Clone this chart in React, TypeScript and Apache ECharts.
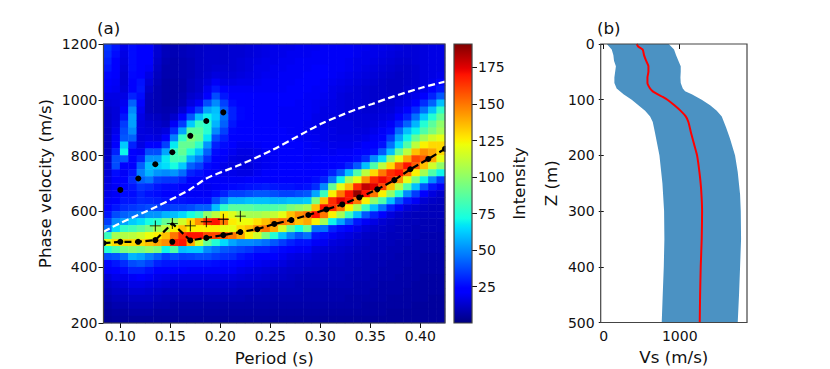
import React, { useEffect, useRef } from "react";
import * as echarts from "echarts";

// Intensity by column (left to right), each listed from top row (1187.5 m/s) to bottom row (212.5 m/s)
const intensityColumns: number[][] = [
  [34,32,30,28,25,22,20,17,15,13,12,12,11,11,11,12,13,14,15,16,17,18,20,24,28,35,45,80,120,75,38,25,20,15,12,10,8,6,5,4],
  [28,26,24,22,21,20,19,17,16,15,15,16,18,20,24,30,38,38,26,22,20,20,23,28,38,50,65,105,130,85,40,28,22,18,14,12,10,8,6,5],
  [18,17,16,15,14,14,15,17,19,24,28,35,38,40,62,70,40,24,20,22,25,26,28,32,42,55,78,108,130,95,45,32,26,18,15,12,10,8,6,5],
  [26,26,26,26,25,23,24,30,42,50,54,54,50,42,30,24,22,24,28,32,28,26,28,34,45,62,82,110,130,98,58,38,30,20,17,14,11,9,7,5],
  [24,24,23,23,23,27,28,26,22,19,17,16,16,16,17,20,30,42,48,42,34,30,31,36,48,66,88,115,130,95,55,40,30,22,17,14,11,9,7,5],
  [24,24,22,20,17,15,13,11,10,10,12,14,15,17,24,38,52,60,58,46,32,27,30,38,52,72,95,122,135,100,48,36,27,20,16,13,11,9,7,5],
  [14,14,13,12,11,10,9,9,9,9,11,13,14,16,24,38,52,62,52,36,28,26,29,36,52,76,105,125,140,95,42,30,24,18,15,12,10,8,6,5],
  [10,10,9,8,8,7,7,7,7,8,9,11,16,22,36,55,68,66,50,34,26,24,27,34,58,90,110,135,145,70,35,28,22,17,14,11,9,8,6,5],
  [9,9,8,8,8,7,7,7,8,9,13,20,32,48,68,80,82,72,52,34,26,24,27,36,60,100,125,150,168,85,38,28,22,16,13,11,9,7,6,5],
  [10,10,9,9,9,8,8,9,10,14,22,35,55,78,90,90,82,62,44,30,24,22,27,36,65,115,135,165,170,60,35,27,21,16,13,11,9,7,6,5],
  [11,11,10,10,10,11,11,13,16,25,40,62,88,96,90,74,58,42,30,24,21,20,26,38,72,130,125,170,140,62,36,27,20,16,13,11,9,7,6,5],
  [12,12,12,12,12,13,13,15,20,35,60,80,88,90,78,62,48,36,27,22,20,20,26,42,80,145,125,170,115,62,38,27,20,16,13,11,9,7,6,5],
  [13,13,13,13,14,16,19,24,38,55,70,76,76,68,52,42,33,26,22,20,19,20,26,42,100,165,125,160,90,50,38,27,20,16,13,11,9,7,6,5],
  [13,13,13,14,16,20,28,38,50,60,62,58,50,38,30,26,23,21,20,20,20,26,38,60,110,170,125,160,75,45,35,26,20,16,13,11,9,7,6,5],
  [13,13,13,14,15,17,22,28,36,42,45,42,36,30,26,22,20,18,18,20,22,30,48,78,125,150,120,155,65,40,33,25,20,16,13,11,9,7,6,5],
  [14,14,14,14,15,17,20,23,26,30,30,28,25,24,22,19,17,16,18,20,25,36,58,88,118,126,120,150,55,38,32,25,20,16,13,11,9,7,6,5],
  [14,14,15,15,16,18,20,22,24,25,25,24,22,21,19,17,16,16,17,20,26,36,58,88,108,122,130,140,50,36,28,22,18,15,12,10,9,7,6,5],
  [15,15,16,16,17,18,20,21,22,22,22,22,22,21,19,17,16,16,17,21,27,38,60,88,105,122,135,125,50,34,26,20,17,14,12,10,8,7,6,5],
  [16,16,17,18,18,19,20,21,21,21,21,21,21,21,20,18,18,18,19,22,28,40,60,85,105,128,145,115,48,30,24,19,16,14,11,10,8,7,6,5],
  [17,17,18,18,19,20,20,21,21,21,21,21,21,21,21,20,19,19,21,24,29,40,60,85,108,135,150,95,45,30,22,18,15,13,11,9,8,7,6,5],
  [18,18,18,19,19,20,20,21,21,21,21,21,21,21,21,20,20,20,22,24,28,38,58,85,112,145,140,75,40,27,21,17,14,12,10,9,8,7,6,5],
  [18,18,19,19,20,20,20,21,21,20,20,20,21,21,21,21,21,21,22,24,27,36,58,88,120,150,115,60,35,25,19,16,13,12,10,9,8,7,6,5],
  [18,19,19,20,20,20,21,21,21,20,20,20,20,21,21,21,21,21,22,24,27,36,60,96,135,145,90,48,30,22,17,14,12,11,10,9,8,7,6,5],
  [19,19,20,20,20,21,21,21,20,20,20,20,20,20,21,21,21,21,22,24,26,38,60,100,145,135,72,40,27,20,16,13,12,10,9,9,8,7,6,5],
  [19,19,20,20,21,21,21,20,20,20,20,19,19,19,20,20,20,21,22,24,27,40,62,105,150,140,90,45,27,20,16,13,11,10,9,8,8,7,6,5],
  [19,20,20,21,21,21,20,20,19,19,18,18,18,19,19,20,21,22,24,26,32,55,95,135,170,125,45,28,20,16,14,12,11,10,9,8,8,7,6,5],
  [20,20,20,21,21,20,20,19,18,17,17,17,18,18,19,20,21,23,25,30,50,80,135,170,150,105,45,26,19,15,13,12,11,10,9,8,8,7,6,5],
  [20,20,20,20,20,19,18,18,17,17,16,16,17,17,18,19,21,24,30,45,90,125,165,165,125,70,30,20,16,14,12,11,10,10,9,8,8,7,6,5],
  [20,20,20,20,19,18,17,16,16,16,16,16,16,17,18,20,22,25,40,70,120,150,175,150,105,55,26,18,15,13,12,11,10,10,9,8,8,7,6,5],
  [20,20,19,19,18,17,16,15,15,15,15,16,16,17,18,20,24,30,60,105,135,170,170,125,80,40,22,16,14,12,11,10,10,9,9,8,7,7,6,5],
  [19,19,18,18,17,16,15,15,15,15,15,15,16,17,19,22,26,40,85,120,165,187,150,105,60,28,18,14,12,11,10,10,9,9,8,8,7,7,6,5],
  [19,18,18,17,16,15,14,14,14,14,15,15,16,18,21,25,32,60,110,145,180,170,125,80,40,20,15,12,11,10,10,9,9,9,8,8,7,6,6,5],
  [18,18,17,16,15,14,13,13,13,14,15,16,18,20,23,27,50,85,130,165,175,150,100,60,30,17,13,11,10,10,9,9,9,8,8,7,7,6,6,5],
  [18,17,16,15,14,13,13,13,14,15,16,18,20,22,27,40,65,110,150,172,160,125,85,45,22,14,12,11,10,10,9,9,8,8,7,7,7,6,6,5],
  [17,16,15,14,13,12,12,13,14,15,17,20,26,35,45,60,100,130,165,165,135,100,60,30,16,12,11,10,10,9,9,8,8,8,7,7,6,6,5,5],
  [16,15,14,13,12,12,12,13,16,18,22,30,44,55,65,90,120,155,170,145,110,75,40,20,13,11,10,10,9,9,8,8,8,7,7,7,6,6,5,5],
  [15,15,14,13,13,13,14,16,18,22,30,42,60,70,85,110,140,170,150,120,85,50,28,15,11,10,10,9,9,8,8,8,7,7,7,6,6,6,5,5],
  [15,15,15,14,14,14,15,18,24,32,45,58,70,90,110,135,160,155,125,95,60,35,20,13,10,10,9,9,8,8,8,7,7,7,6,6,6,5,5,5],
  [16,16,16,16,16,16,18,22,32,45,62,75,85,105,125,145,155,135,105,70,40,22,14,11,10,9,9,8,8,8,7,7,7,6,6,6,6,5,5,5],
  [17,17,17,17,17,18,22,30,42,60,75,88,95,115,130,140,140,115,85,50,28,16,12,10,10,9,9,8,8,8,7,7,7,6,6,6,5,5,5,5],
  [17,17,17,17,18,22,28,40,60,78,90,100,105,120,130,130,120,100,70,35,20,13,11,10,10,9,9,8,8,8,7,7,7,6,6,6,5,5,5,5],
];

const fundamentalPeriod = [0.0832,0.1,0.1178,0.135,0.152,0.17,0.186,0.203,0.22,0.237,0.254,0.271,0.288,0.306,0.322,0.339,0.357,0.374,0.39,0.408,0.4247];
const fundamentalVelocity = [486,491,491,497,557,496,505,515,526,536,555,569,587,607,625,650,679,712,751,788,824];
const fundamentalDotVelocity = [486,491,491,497,491,496,505,515,526,536,555,569,587,607,625,650,679,712,751,788,824];

const plusPeriod = [0.135,0.152,0.17,0.186,0.203,0.22];
const plusVelocity = [548,557,548,563,572,583];

const higherPeriod = [0.1,0.118,0.135,0.152,0.17,0.186,0.203];
const higherVelocity = [677,718,769,812,871,924,955];

const boundaryPeriod = [0.0832,0.0994,0.136,0.169,0.186,0.219,0.252,0.286,0.302,0.319,0.336,0.352,0.369,0.402,0.4247];
const boundaryVelocity = [527,557,617,677,718,766,820,886,916,942,966,985,1007,1044,1065];

const periodTicks = [0.1,0.15,0.2,0.25,0.3,0.35,0.4];
const colorbarTicks = [25,50,75,100,125,150,175];
const vsTicks = [0,1000];

const bandLowDepth = [0,10,20,30,40,60,70,80,90,100,110,120,130,140,160,200,250,300,350,400,450,500];
const bandLowVs = [40,105,127,135,160,140,140,170,260,368,456,544,610,645,675,733,772,794,798,790,776,763];
const bandHighDepth = [0,10,20,30,40,50,60,70,80,85,90,100,110,120,130,150,170,200,230,270,300,350,400,450,500];
const bandHighVs = [855,925,952,982,1013,1013,1009,1013,1040,1070,1158,1289,1400,1487,1553,1610,1662,1728,1763,1794,1803,1807,1794,1780,1763];

const profileDepth = [0,5,10,20,30,40,50,60,70,80,85,90,95,100,110,120,130,140,160,180,200,230,260,300,350,400,450,500];
const profileVs = [434,456,513,530,557,588,588,575,575,610,645,706,776,838,930,1013,1079,1114,1149,1189,1228,1259,1281,1294,1289,1276,1268,1263];

const FONT = "DejaVu Sans";
const INK = "#111";
const FRAME = "#444";

function jet(t: number): string {
  const seg = (pts: number[][]) => {
    for (let i = 1; i < pts.length; i++) {
      if (t <= pts[i][0]) {
        const [x0, y0] = pts[i - 1];
        const [x1, y1] = pts[i];
        return y0 + ((y1 - y0) * (t - x0)) / (x1 - x0);
      }
    }
    return pts[pts.length - 1][1];
  };
  const r = seg([[0,0],[0.35,0],[0.66,1],[0.89,1],[1,0.5]]);
  const g = seg([[0,0],[0.125,0],[0.375,1],[0.64,1],[0.91,0],[1,0]]);
  const b = seg([[0,0.5],[0.11,1],[0.34,1],[0.65,0],[1,0]]);
  return `rgb(${Math.round(r * 255)},${Math.round(g * 255)},${Math.round(b * 255)})`;
}

const rampSteps = Array.from({ length: 129 }, (_, i) => i / 128);

const PLUS = "path://M46 0H54V46H100V54H54V100H46V54H0V46H46Z";

const frame = (x: number, y: number, width: number, height: number) => ({
  type: "rect",
  shape: { x, y, width, height },
  style: { fill: "none", stroke: FRAME, lineWidth: 1.2 },
  z: 50,
  silent: true,
});
const mask = (x: number, y: number, width: number, height: number) => ({
  type: "rect",
  shape: { x, y, width, height },
  style: { fill: "#fff" },
  z: 49,
  silent: true,
});

const tickCommon = { show: true, length: 5, lineStyle: { color: INK, width: 1 } };
const plain = (v: number) => String(v);
const labelCommon = { color: INK, fontSize: 14, fontFamily: FONT, margin: 6, formatter: plain };
const nameCommon = { color: INK, fontSize: 16.7, fontFamily: FONT };
const panelTitle = { fontSize: 16.7, fontWeight: "normal", fontFamily: FONT, color: INK };

export default function App() {
  const ref = useRef<HTMLDivElement>(null);
  useEffect(() => {
    const chart = echarts.init(ref.current!, undefined, { renderer: "svg" });
    const cells: number[][] = [];
    intensityColumns.forEach((col, c) =>
      col.forEach((v, r) => cells.push([c, col.length - 1 - r, v]))
    );
    const bandPoints: number[][] = [
      ...bandLowDepth.map((d, i) => [bandLowVs[i], d]),
      ...bandHighDepth.map((d, i) => [bandHighVs[i], d]).reverse(),
    ];
    chart.setOption({
      animation: false,
      backgroundColor: "#fff",
      textStyle: { fontFamily: FONT },
      title: [
        { text: "(a)", left: 97, top: 19, padding: 0, textStyle: panelTitle },
        { text: "(b)", left: 597, top: 19, padding: 0, textStyle: panelTitle },
      ],
      grid: [
        { left: 103.5, top: 44, width: 341.5, height: 279, outerBoundsMode: "none" },
        { left: 454, top: 44, width: 18, height: 279, outerBoundsMode: "none" },
        { left: 600.7, top: 44, width: 146.3, height: 278.5, outerBoundsMode: "none" },
      ],
      visualMap: {
        show: false,
        seriesIndex: 0,
        dimension: 2,
        min: 0.2,
        max: 191,
        inRange: { color: rampSteps.map(jet) },
      },
      xAxis: [
        { type: "category", gridIndex: 0, position: "top", show: false, data: intensityColumns.map((_, i) => String(i)) },
        {
          type: "value", gridIndex: 0, position: "bottom", min: 0.0832, max: 0.4247,
          name: "Period (s)", nameLocation: "middle", nameGap: 26, nameTextStyle: nameCommon,
          splitLine: { show: false }, axisLine: { show: false },
          axisTick: { ...tickCommon, customValues: periodTicks },
          axisLabel: { ...labelCommon, customValues: periodTicks, formatter: (v: number) => v.toFixed(2) },
        },
        { type: "category", gridIndex: 1, show: false, data: ["Intensity"] },
        {
          type: "value", gridIndex: 2, position: "bottom", min: -40, max: 1885,
          name: "Vs (m/s)", nameLocation: "middle", nameGap: 26, nameTextStyle: nameCommon,
          splitLine: { show: false }, axisLine: { show: false },
          axisTick: { ...tickCommon, customValues: vsTicks },
          axisLabel: { ...labelCommon, customValues: vsTicks },
        },
      ],
      yAxis: [
        { type: "category", gridIndex: 0, position: "right", show: false, data: intensityColumns[0].map((_, i) => String(i)) },
        {
          type: "value", gridIndex: 0, position: "left", min: 200, max: 1200, interval: 200,
          name: "Phase velocity (m/s)", nameLocation: "middle", nameGap: 50, nameTextStyle: nameCommon,
          splitLine: { show: false }, axisLine: { show: false },
          axisTick: tickCommon, axisLabel: labelCommon,
        },
        {
          type: "value", gridIndex: 1, position: "right", min: 0.2, max: 191,
          name: "Intensity", nameLocation: "middle", nameGap: 38, nameRotate: 90, nameTextStyle: nameCommon,
          splitLine: { show: false }, axisLine: { show: false },
          axisTick: { ...tickCommon, customValues: colorbarTicks },
          axisLabel: { ...labelCommon, customValues: colorbarTicks },
        },
        {
          type: "value", gridIndex: 2, position: "left", inverse: true, min: 0, max: 500, interval: 100,
          name: "Z (m)", nameLocation: "middle", nameGap: 41, nameTextStyle: nameCommon,
          splitLine: { show: false }, axisLine: { show: false },
          axisTick: tickCommon, axisLabel: labelCommon,
        },
      ],
      series: [
        { type: "heatmap", xAxisIndex: 0, yAxisIndex: 0, data: cells, progressive: 0, itemStyle: { borderWidth: 0 } },
        {
          type: "line", xAxisIndex: 1, yAxisIndex: 1, z: 3, showSymbol: false, smooth: 0.3,
          data: boundaryPeriod.map((p, i) => [p, boundaryVelocity[i]]),
          lineStyle: { color: "#fff", width: 2.2, type: [7, 3.5] },
        },
        {
          type: "line", xAxisIndex: 1, yAxisIndex: 1, z: 3, showSymbol: false,
          data: fundamentalPeriod.map((p, i) => [p, fundamentalVelocity[i]]),
          lineStyle: { color: "#000", width: 2.2, type: [7, 3.5] },
        },
        {
          type: "scatter", xAxisIndex: 1, yAxisIndex: 1, z: 4, symbolSize: 6, clip: true,
          data: fundamentalPeriod.map((p, i) => [p, fundamentalDotVelocity[i]]),
          itemStyle: { color: "#000", opacity: 1 },
        },
        {
          type: "scatter", xAxisIndex: 1, yAxisIndex: 1, z: 4, symbolSize: 6,
          data: higherPeriod.map((p, i) => [p, higherVelocity[i]]),
          itemStyle: { color: "#000", opacity: 1 },
        },
        {
          type: "scatter", xAxisIndex: 1, yAxisIndex: 1, z: 4, symbol: PLUS, symbolSize: 11,
          data: plusPeriod.map((p, i) => [p, plusVelocity[i]]),
          itemStyle: { color: "#000", opacity: 1 },
        },
        {
          type: "bar", xAxisIndex: 2, yAxisIndex: 2, barWidth: "100%", data: [191],
          itemStyle: {
            color: new echarts.graphic.LinearGradient(0, 0, 0, 1, rampSteps.map((t) => ({ offset: 1 - t, color: jet(t) })).reverse()),
          },
        },
        {
          type: "custom", xAxisIndex: 3, yAxisIndex: 3, data: [[0, 0]], clip: true,
          renderItem: (_: any, api: any) => ({
            type: "polygon",
            shape: { points: bandPoints.map((p) => api.coord(p)) },
            style: { fill: "#4b92c3", stroke: "none" },
          }),
        },
        {
          type: "line", xAxisIndex: 3, yAxisIndex: 3, z: 3, showSymbol: false, smooth: 0.2,
          data: profileVs.map((v, i) => [v, profileDepth[i]]),
          lineStyle: { color: "#ff0000", width: 2 },
        },
      ],
      graphic: [
        mask(97, 238, 6.5, 11),
        mask(445.5, 143, 6, 11),
        frame(103.5, 44, 341.5, 279),
        frame(454, 44, 18, 279),
        frame(600.7, 44, 146.3, 278.5),
      ],
    });
    return () => chart.dispose();
  }, []);
  return <div ref={ref} style={{ position: "absolute", left: 0, top: 0, width: 830, height: 369 }} />;
}
